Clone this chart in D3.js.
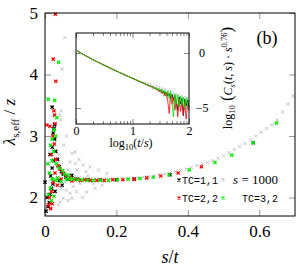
<!DOCTYPE html>
<html lang="en">
<head>
<meta charset="utf-8">
<title>lambda s,eff / z vs s/t</title>
<script src="https://d3js.org/d3.v7.min.js"></script>
<style>
  body { margin: 0; background: #fff; }
  svg text { font-family: "Liberation Serif", "DejaVu Serif", serif; }
</style>
</head>
<body>
<div id="chart"></div>
<script>
// main panel: [s/t, lambda_s,eff / z]
const gray1000 = [
  [0.08,2.34],[0.095,2.32],[0.11,2.31],[0.125,2.30],[0.14,2.30],[0.155,2.29],[0.17,2.30],[0.185,2.30],
  [0.2,2.30],[0.215,2.31],[0.23,2.31],[0.245,2.32],[0.26,2.32],[0.275,2.33],[0.29,2.34],[0.305,2.35],
  [0.32,2.37],[0.335,2.38],[0.35,2.40],[0.365,2.42],[0.38,2.44],[0.395,2.46],[0.41,2.49],[0.425,2.52],
  [0.44,2.55],[0.455,2.57],[0.47,2.60],[0.485,2.64],[0.5,2.68],[0.515,2.73],[0.53,2.78],[0.545,2.83],
  [0.56,2.88],[0.575,2.94],[0.59,3.00],[0.605,3.06],[0.62,3.12],[0.635,3.18],[0.65,3.26],[0.665,3.39],
  [0.68,3.52],[0.695,3.65],
  [0.055,4.6],[0.048,4.09],[0.046,3.41],[0.042,3.34],[0.044,3.26],[0.06,3.0],[0.052,2.85],[0.075,2.72],
  [0.084,2.74],[0.07,2.58],[0.107,2.53],[0.126,2.5],[0.095,2.62],[0.15,2.45],[0.173,2.39],[0.065,2.45],
  [0.09,2.45],[0.115,2.42],[0.079,2.18],[0.098,2.23],[0.117,2.09],[0.07,2.07],[0.051,1.99],[0.075,1.99],
  [0.042,1.93],[0.037,1.88],[0.135,2.23],[0.06,2.12],[0.088,2.1],[0.105,2.0],[0.03,2.2],[0.045,2.15],
  [0.055,2.25],[0.16,2.2],[0.14,2.15],[0.035,2.5],[0.04,2.7],[0.025,2.3],[0.065,1.95],[0.12,2.35],[0.085,2.55]
];
const tc11 = [
  [0.003,1.78],[0.008,1.85],[0.012,1.92],[0.006,2.0],[0.014,2.05],[0.0,2.25],[0.018,2.15],[0.022,2.22],
  [0.028,2.1],[0.016,2.35],[0.02,2.48],[0.024,2.6],[0.014,2.7],[0.02,2.82],[0.027,2.95],[0.023,3.05],
  [0.025,3.12],[0.027,3.18],[0.02,3.47],[0.03,2.75],[0.035,2.62],[0.04,2.5],[0.046,2.42],[0.052,2.38],
  [0.058,2.33],[0.065,2.3],[0.075,2.36],[0.04,2.28],[0.048,2.2],[0.09,2.3],[0.12,2.29],[0.155,2.29],
  [0.2,2.29],[0.25,2.3],[0.35,2.37],[0.583,2.89]
];
const tc22 = [
  [0.005,3.18],[0.028,3.2],[0.03,3.89],[0.023,4.25],[0.029,4.98],[0.025,3.41],[0.027,3.34],[0.014,3.16],
  [0.022,3.0],[0.026,2.87],[0.018,2.7],[0.03,2.62],[0.036,2.52],[0.042,2.46],[0.028,2.4],[0.05,2.4],
  [0.06,2.36],[0.07,2.33],[0.024,2.25],[0.018,2.1],[0.012,2.0],[0.02,1.9],[0.016,1.82],[0.01,1.88],
  [0.035,2.2],[0.045,2.3],[0.08,2.3],[0.075,2.27],[0.085,2.29],[0.1,2.28],[0.111,2.29],[0.127,2.28],
  [0.145,2.28],[0.166,2.28],[0.19,2.29],[0.218,2.29],[0.249,2.3],[0.285,2.32],[0.324,2.35],[0.373,2.4],
  [0.438,2.5]
];
const tc32 = [
  [0.009,3.6],[0.027,3.58],[0.038,4.2],[0.033,3.3],[0.025,3.1],[0.02,2.95],[0.03,3.0],[0.015,2.85],
  [0.024,2.75],[0.02,2.6],[0.032,2.55],[0.04,2.48],[0.05,2.44],[0.055,2.38],[0.065,2.36],[0.008,2.55],
  [0.012,2.4],[0.02,2.3],[0.03,2.28],[0.015,2.15],[0.01,2.05],[0.018,1.95],[0.025,2.02],[0.035,2.32],
  [0.045,2.26],[0.06,2.3],[0.069,2.3],[0.079,2.3],[0.091,2.29],[0.104,2.29],[0.119,2.28],[0.136,2.28],
  [0.155,2.28],[0.178,2.28],[0.203,2.29],[0.233,2.3],[0.266,2.31],[0.303,2.33],[0.347,2.37],[0.404,2.45],
  [0.476,2.57],[0.523,2.69],[0.583,2.89],[0.648,3.21]
];

// inset: log10(t/s) grid and log10(C_s(t,s) s^0.76) per series
const insetX = [0.02,0.1,0.2,0.3,0.4,0.5,0.6,0.7,0.8,0.9,1.0,1.1,1.2,
  1.225,1.25,1.275,1.3,1.325,1.35,1.375,1.4,1.425,1.45,1.475,1.5,1.525,1.55,1.575,1.6,
  1.625,1.65,1.675,1.7,1.725,1.75,1.775,1.8,1.825,1.85,1.875,1.9,1.925,1.95,1.975,2.0];
const insetGray = [0.2,-0.05,-0.33,-0.6,-0.86,-1.11,-1.36,-1.6,-1.84,-2.07,-2.3,-2.5,-2.7,
  -2.6,-3.0,-2.7,-3.1,-2.75,-3.3,-2.85,-3.4,-2.9,-3.6,-3.0,-3.7,-3.1,-3.9,-3.2,-4.2,
  -3.3,-4.4,-3.4,-4.7,-3.5,-5.0,-3.6,-5.3,-3.7,-4.9,-3.8,-5.4,-3.9,-5.0,-4.0,-5.2];
const insetBlack = [0.2,-0.05,-0.33,-0.6,-0.86,-1.11,-1.36,-1.6,-1.84,-2.07,-2.3,-2.53,-2.75,
  -2.81,-2.86,-2.93,-2.97,-3.04,-3.06,-3.17,-3.17,-3.3,-3.27,-3.45,-3.36,-3.6,-3.47,-3.75,-3.58,
  -3.9,-3.68,-4.1,-3.75,-4.3,-3.85,-4.5,-5.2,-4.0,-4.6,-4.1,-5.7,-4.2,-4.8,-4.3,-4.9];
const insetRed = [0.2,-0.05,-0.33,-0.6,-0.86,-1.11,-1.36,-1.6,-1.84,-2.07,-2.3,-2.53,-2.75,
  -2.82,-2.85,-2.95,-2.95,-3.08,-3.05,-3.2,-3.15,-3.32,-3.25,-3.5,-3.35,-3.7,-3.45,-3.9,-3.55,
  -4.4,-5.5,-3.8,-4.6,-4.0,-5.2,-4.3,-5.8,-4.2,-5.3,-4.4,-5.6,-4.5,-6.0,-4.6,-5.2];
const insetGreen = [0.22,-0.04,-0.33,-0.6,-0.86,-1.11,-1.36,-1.6,-1.84,-2.07,-2.3,-2.52,-2.76,
  -2.80,-2.87,-2.90,-3.00,-2.98,-3.12,-3.08,-3.25,-3.15,-3.38,-3.22,-3.55,-3.30,-3.70,-3.40,-3.95,
  -3.45,-4.10,-3.50,-4.40,-5.80,-3.70,-4.60,-3.80,-4.90,-3.90,-4.70,-4.00,-5.10,-4.05,-4.80,-4.20];

const xTicks = [0, 0.2, 0.4, 0.6];
const yTicks = [2, 3, 4, 5];
const insetXTicks = [0, 1, 2];
const insetYTicks = [0, -5];
const minorMult = [2, 3, 4, 5, 6, 7, 8, 9];

const width = 296, height = 275;
const svg = d3.select('#chart').append('svg')
  .attr('width', width).attr('height', height);

const x = d3.scaleLinear().domain([0, 0.7]).range([45, 295]);
const y = d3.scaleLinear().domain([1.7, 5]).range([216, 13]);
const fmt = d => String(d);

const cross = a => `M${-a},${-a}L${a},${a}M${-a},${a}L${a},${-a}`;

// ticks (inward) on all four sides
function ticks(g) {
  g.select('.domain').remove();
  g.selectAll('.tick line').attr('stroke', '#999');
}
svg.append('g').attr('transform', 'translate(0,216)')
  .call(d3.axisBottom(x).tickValues(xTicks).tickSize(-6).tickPadding(9).tickFormat(fmt))
  .call(ticks)
  .selectAll('text').attr('font-size', 17).attr('fill', '#000')
  .style('font-family', '"Liberation Serif", serif');
svg.append('g').attr('transform', 'translate(0,13)')
  .call(d3.axisTop(x).tickValues(xTicks).tickSize(-6).tickFormat(''))
  .call(ticks);
svg.append('g').attr('transform', 'translate(45,0)')
  .call(d3.axisLeft(y).tickValues(yTicks).tickSize(-6).tickPadding(7).tickFormat(fmt))
  .call(ticks)
  .selectAll('text').attr('font-size', 17).attr('fill', '#000')
  .style('font-family', '"Liberation Serif", serif');
svg.append('g').attr('transform', 'translate(295,0)')
  .call(d3.axisRight(y).tickValues(yTicks).tickSize(-6).tickFormat(''))
  .call(ticks);

// data points
const series = [
  { data: gray1000, color: '#c4c4c4', sw: 1.0, a: 1.6 },
  { data: tc11, color: '#000', sw: 1.3, a: 1.6 },
  { data: tc22, color: '#ff0000', sw: 1.3, a: 1.6 },
  { data: tc32, color: '#00ee00', sw: 1.3, a: 1.6 }
];
const pts = svg.append('g');
series.forEach(s => {
  pts.selectAll(null).data(s.data).enter().append('path')
    .attr('transform', d => `translate(${x(d[0])},${y(d[1])})`)
    .attr('d', cross(s.a))
    .attr('stroke', s.color).attr('stroke-width', s.sw).attr('fill', 'none');
});

// frame
svg.append('rect').attr('x', 45).attr('y', 13).attr('width', 250).attr('height', 203)
  .attr('fill', 'none').attr('stroke', '#000').attr('stroke-width', 1);

// ---------- inset ----------
const ix = d3.scaleLinear().domain([0, 2]).range([76, 189]);
const iy = d3.scaleLinear().domain([-6.45, 1.82]).range([124, 33]);
const inset = svg.append('g');
inset.append('rect').attr('x', 76).attr('y', 33).attr('width', 113).attr('height', 91)
  .attr('fill', '#fff');

const insetLines = [
  { v: insetGray, color: '#c8c8c8' },
  { v: insetBlack, color: '#000' },
  { v: insetRed, color: '#ff0000' },
  { v: insetGreen, color: '#00e600' }
];
const line = d3.line().x((d, i) => ix(insetX[i])).y(d => iy(d));
inset.selectAll('path.iline').data(insetLines).enter().append('path')
  .attr('class', 'iline')
  .attr('d', d => line(d.v))
  .attr('stroke', d => d.color).attr('stroke-width', 0.8).attr('fill', 'none');

const minorX = [];
[0, 1].forEach(dec => minorMult.forEach(m => minorX.push(dec + Math.log10(m))));

function insetTicks(g) {
  g.select('.domain').remove();
  g.selectAll('.tick line').attr('stroke', '#888');
}
inset.append('g').attr('transform', 'translate(0,124)')
  .call(d3.axisBottom(ix).tickValues(insetXTicks).tickSize(-5).tickPadding(2).tickFormat(fmt))
  .call(insetTicks)
  .selectAll('text').attr('font-size', 12).attr('fill', '#000')
  .style('font-family', '"Liberation Serif", serif');
inset.append('g').attr('transform', 'translate(0,124)')
  .call(d3.axisBottom(ix).tickValues(minorX).tickSize(-3).tickFormat(''))
  .call(insetTicks);
inset.append('g').attr('transform', 'translate(0,33)')
  .call(d3.axisTop(ix).tickValues(insetXTicks).tickSize(-5).tickFormat(''))
  .call(insetTicks);
inset.append('g').attr('transform', 'translate(0,33)')
  .call(d3.axisTop(ix).tickValues(minorX).tickSize(-3).tickFormat(''))
  .call(insetTicks);
inset.append('g').attr('transform', 'translate(76,0)')
  .call(d3.axisLeft(iy).tickValues(insetYTicks).tickSize(-5).tickFormat(''))
  .call(insetTicks);
inset.append('g').attr('transform', 'translate(189,0)')
  .call(d3.axisRight(iy).tickValues(insetYTicks).tickSize(-5).tickFormat(''))
  .call(insetTicks);
// inset y tick labels sit outside on the right
inset.selectAll('text.iyl').data(insetYTicks).enter().append('text')
  .attr('class', 'iyl')
  .attr('x', 202).attr('y', d => iy(d) + 4)
  .attr('text-anchor', 'middle').attr('font-size', 12)
  .text(d => d < 0 ? '\u2212' + Math.abs(d) : d);
inset.append('rect').attr('x', 76).attr('y', 33).attr('width', 113).attr('height', 91)
  .attr('fill', 'none').attr('stroke', '#000').attr('stroke-width', 1);

// inset axis titles
const ixl = svg.append('text').attr('x', 131).attr('y', 147)
  .attr('text-anchor', 'middle').attr('font-size', 12);
ixl.append('tspan').text('log');
ixl.append('tspan').attr('font-size', 8.5).attr('dy', 3).text('10');
ixl.append('tspan').attr('dy', -3).text('(');
ixl.append('tspan').attr('font-style', 'italic').text('t');
ixl.append('tspan').text('/');
ixl.append('tspan').attr('font-style', 'italic').text('s');
ixl.append('tspan').text(')');

const iyl = svg.append('text')
  .attr('transform', 'translate(232,78) rotate(-90)')
  .attr('text-anchor', 'middle').attr('font-size', 12);
iyl.append('tspan').text('log');
iyl.append('tspan').attr('font-size', 8.5).attr('dy', 3).text('10');
iyl.append('tspan').attr('dy', -3).attr('font-size', 17).text(' (');
iyl.append('tspan').attr('font-style', 'italic').text('C');
iyl.append('tspan').attr('font-style', 'italic').attr('font-size', 8.5).attr('dy', 3).text('s');
iyl.append('tspan').attr('dy', -3).text('(');
iyl.append('tspan').attr('font-style', 'italic').text('t');
iyl.append('tspan').text(', ');
iyl.append('tspan').attr('font-style', 'italic').text('s');
iyl.append('tspan').text(') \u00b7 ');
iyl.append('tspan').attr('font-style', 'italic').text('s');
iyl.append('tspan').attr('font-size', 8.5).attr('dy', -5).text('0.76');
iyl.append('tspan').attr('dy', 5).attr('font-size', 17).text(')');

// main axis titles
const myl = svg.append('text')
  .attr('transform', 'translate(15,122) rotate(-90)')
  .attr('text-anchor', 'middle').attr('font-size', 17);
myl.append('tspan').attr('font-style', 'italic').text('\u03bb');
myl.append('tspan').attr('font-size', 11).attr('dy', 4).text('s,eff');
myl.append('tspan').attr('dy', -4).text(' / ');
myl.append('tspan').attr('font-style', 'italic').text('z');

const mxl = svg.append('text').attr('x', 170).attr('y', 263)
  .attr('text-anchor', 'middle').attr('font-size', 18);
mxl.append('tspan').attr('font-style', 'italic').text('s');
mxl.append('tspan').text('/');
mxl.append('tspan').attr('font-style', 'italic').text('t');

svg.append('text').attr('x', 267).attr('y', 44)
  .attr('text-anchor', 'middle').attr('font-size', 18).text('(b)');

// legend
const legend = [
  { label: 'TC=1,1', color: '#000', mx: 179, my: 180, tx: 182, anchor: 'start', mono: true },
  { label: 's = 1000', color: '#c4c4c4', mx: 223, my: 180, tx: 278, anchor: 'end', mono: false },
  { label: 'TC=2,2', color: '#ff0000', mx: 179, my: 198, tx: 182, anchor: 'start', mono: true },
  { label: 'TC=3,2', color: '#00ee00', mx: 223, my: 198, tx: 278, anchor: 'end', mono: true }
];
const lg = svg.append('g');
lg.selectAll('path').data(legend).enter().append('path')
  .attr('transform', d => `translate(${d.mx},${d.my})`)
  .attr('d', cross(1.5))
  .attr('stroke', d => d.color).attr('stroke-width', 1.2).attr('fill', 'none');
legend.forEach(d => {
  const t = lg.append('text').attr('x', d.tx).attr('y', d.my + 3.5)
    .attr('text-anchor', d.anchor);
  if (d.mono) {
    t.attr('font-size', 10).style('font-family', '"Liberation Mono", "DejaVu Sans Mono", monospace')
      .text(d.label);
  } else {
    t.attr('font-size', 13);
    t.append('tspan').attr('font-style', 'italic').text('s');
    t.append('tspan').text(' = 1000');
  }
});
</script>
</body>
</html>
